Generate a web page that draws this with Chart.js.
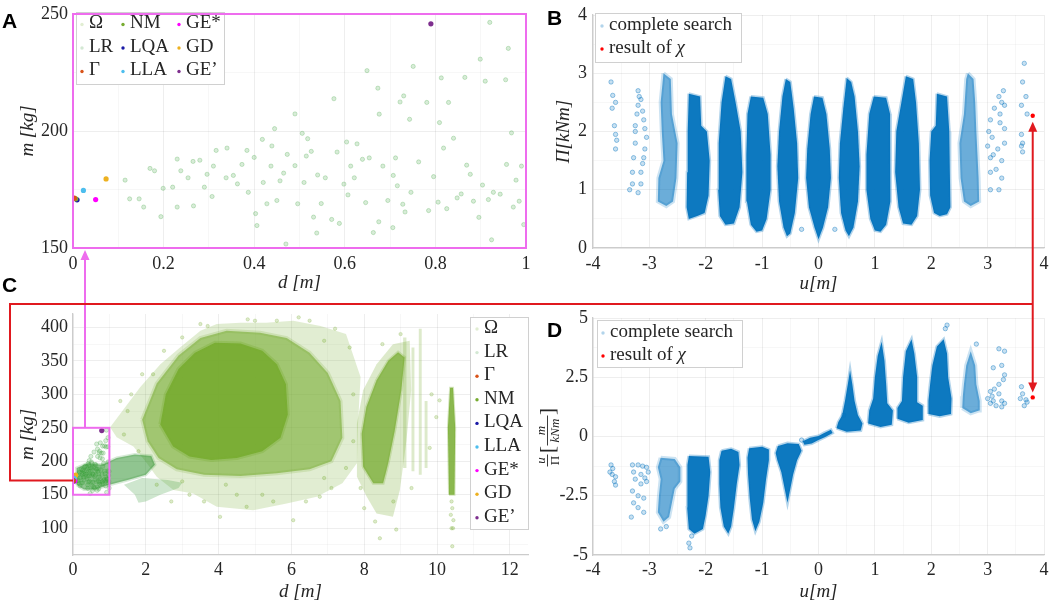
<!DOCTYPE html>
<html>
<head>
<meta charset="utf-8">
<script src="https://cdn.jsdelivr.net/npm/chart.js@4.4.1/dist/chart.umd.min.js"></script>
<style>
    html, body { margin: 0; padding: 0; background: #fff; }
    #page { position: relative; width: 1059px; height: 606px; overflow: hidden; }
    #page canvas { position: absolute; }
    .tag { position: absolute; font: bold 21px "Liberation Sans", Arial, sans-serif; line-height: 21px; color: #000; }
</style>
</head>
<body>
<div id="page">
    <canvas id="chartA"></canvas>
    <canvas id="chartB"></canvas>
    <canvas id="chartC"></canvas>
    <canvas id="chartD"></canvas>
    <canvas id="links" style="left:0;top:0;pointer-events:none"></canvas>
    <div class="tag" style="left:2px;top:10px">A</div>
    <div class="tag" style="left:547px;top:7px">B</div>
    <div class="tag" style="left:2px;top:274px">C</div>
    <div class="tag" style="left:547px;top:319px">D</div>
</div>
<script>
// ---------- ticks ----------
const aXTicks = [0, 0.2, 0.4, 0.6, 0.8, 1];
const aYTicks = [150, 200, 250];
const bXTicks = [-4, -3, -2, -1, 0, 1, 2, 3, 4];
const bYTicks = [0, 1, 2, 3, 4];
const cXTicks = [0, 2, 4, 6, 8, 10, 12];
const cYTicks = [100, 150, 200, 250, 300, 350, 400];
const dXTicks = [-4, -3, -2, -1, 0, 1, 2, 3, 4];
const dYTicks = [-5, -2.5, 0, 2.5, 5];

// ---------- panels A / C : m [kg] over d [m] ----------
const specialKeys = ['gamma', 'nm', 'lqa', 'lla', 'geStar', 'gd', 'gePrime'];
const specialD = [0.003, 0.006, 0.009, 0.023, 0.05, 0.073, 0.79];
const specialM = [171.3, 171.0, 170.6, 174.6, 170.7, 179.5, 245.8];

// LR samples visible in the zoomed panel A
const lrPoints = [
    [0.115, 179], [0.125, 171], [0.146, 171], [0.156, 167.5], [0.17, 184], [0.18, 183], [0.194, 163.4],
    [0.199, 175.5], [0.22, 176], [0.23, 167.5], [0.23, 188], [0.238, 183], [0.254, 180], [0.265, 187],
    [0.266, 168], [0.28, 187.5], [0.29, 176], [0.296, 181.5], [0.307, 172], [0.31, 185], [0.316, 191.7],
    [0.34, 192.7], [0.338, 180], [0.354, 181], [0.363, 177.4], [0.373, 185.7], [0.384, 191.7], [0.387, 173.8],
    [0.4, 188.7], [0.403, 164.7], [0.406, 159.6], [0.418, 196.4], [0.42, 178], [0.428, 168.9], [0.437, 185],
    [0.439, 193.6], [0.445, 201], [0.45, 170.3], [0.457, 178.7], [0.465, 182], [0.47, 151.7], [0.473, 190],
    [0.49, 185.2], [0.49, 207.3], [0.496, 168.9], [0.506, 199], [0.51, 178], [0.515, 189.3], [0.518, 196.7],
    [0.526, 191.3], [0.531, 163.2], [0.538, 156.4], [0.54, 181.2], [0.548, 169], [0.557, 180], [0.571, 162.2],
    [0.576, 213.8], [0.583, 191], [0.588, 160.5], [0.598, 177.3], [0.604, 195.3], [0.607, 172.7], [0.613, 185],
    [0.621, 180], [0.627, 194.5], [0.639, 187.9], [0.646, 169.4], [0.649, 225.8], [0.654, 188.5], [0.663, 156.6],
    [0.673, 218.3], [0.675, 161.2], [0.676, 207.2], [0.684, 185], [0.695, 170.3], [0.706, 158.7], [0.707, 181],
    [0.712, 188.5], [0.716, 176.6], [0.722, 212.4], [0.728, 168.7], [0.73, 215], [0.733, 165.4], [0.743, 205],
    [0.746, 173.8], [0.751, 227.6], [0.763, 186.8], [0.781, 212.2], [0.785, 166], [0.796, 180.5], [0.806, 169.6],
    [0.809, 203.6], [0.813, 222.7], [0.818, 192.7], [0.825, 166.8], [0.829, 212.2], [0.84, 196.9], [0.848, 171.4],
    [0.857, 173.1], [0.865, 222.9], [0.869, 185.4], [0.877, 181.5], [0.884, 170], [0.896, 163.1], [0.899, 230.7],
    [0.904, 176.9], [0.91, 221.3], [0.917, 170.7], [0.92, 246.4], [0.924, 153.5], [0.928, 173.8], [0.943, 173],
    [0.955, 221.9], [0.957, 185.7], [0.961, 235.3], [0.968, 199.2], [0.972, 167.5], [0.978, 179], [0.985, 170],
    [0.99, 185], [0.995, 160]
];

// outlines of the dense clouds in panel C, read as [d, m]
const omegaHalo = [
    [1.02, 251], [1.85, 311], [2.4, 345], [2.94, 370], [3.5, 395], [3.95, 405], [4.6, 407], [5.3, 407],
    [6.05, 410], [6.8, 402], [7.5, 390], [7.9, 326], [7.83, 256], [7.8, 197], [7.4, 167], [6.7, 147],
    [5.87, 137], [4.95, 127], [3.95, 132], [3.3, 152], [2.76, 157], [2.3, 177], [2.03, 197], [1.66, 222], [1.2, 236]
];
const omegaMid = [
    [1.9, 262], [2.3, 316], [2.9, 358], [3.5, 384], [4.22, 395], [5.14, 392], [5.87, 384], [6.5, 362],
    [7.0, 332], [7.35, 290], [7.4, 235], [7.1, 200], [6.5, 188], [5.6, 182], [4.6, 178], [3.6, 180],
    [2.85, 188], [2.35, 205], [2.05, 230]
];
const omegaCore = [
    [2.4, 255], [2.55, 300], [2.9, 338], [3.35, 362], [3.9, 377], [4.6, 376], [5.2, 365], [5.6, 345],
    [5.85, 315], [5.9, 270], [5.7, 235], [5.2, 215], [4.5, 205], [3.8, 202], [3.2, 207], [2.75, 222]
];
const omegaSpindleHalo = [
    [7.8, 177], [7.8, 256], [7.97, 306], [8.34, 345], [8.79, 375], [9.25, 380], [9.29, 306], [9.16, 231],
    [8.98, 157], [8.79, 117], [8.34, 122], [8.07, 147]
];
const omegaSpindle = [
    [7.97, 192], [7.93, 241], [8.06, 281], [8.34, 321], [8.66, 350], [8.93, 363], [9.11, 355], [9.02, 306],
    [8.84, 246], [8.66, 197], [8.52, 167], [8.25, 167]
];
const omegaStripes = [
    [[9.07, 190], [9.07, 385], [9.16, 385], [9.16, 190]],
    [[9.3, 185], [9.3, 370], [9.38, 370], [9.38, 185]],
    [[9.5, 180], [9.5, 398], [9.58, 398], [9.58, 180]],
    [[9.66, 190], [9.66, 290], [9.74, 290], [9.74, 190]]
];
const omegaColumn = [[10.33, 150], [10.3, 250], [10.36, 310], [10.44, 310], [10.5, 250], [10.48, 150]];
const omegaSparse = [
    [10.4, 140], [10.42, 130], [10.38, 120], [10.45, 112], [10.4, 100], [10.44, 100], [10.42, 73],
    [6.78, 147], [8.43, 85], [8.88, 98], [6.05, 112], [9.98, 266], [10.07, 291], [4.04, 117], [4.77, 132],
    [1.5, 275], [2.2, 330], [6.2, 415], [3.7, 402], [5.0, 410],
    [1.3, 290], [1.6, 300], [1.9, 330], [2.5, 365], [3.0, 385], [3.5, 405], [4.8, 412], [5.6, 410],
    [6.5, 410], [7.2, 398], [7.6, 370], [7.7, 300], [7.7, 230], [7.5, 190], [7.1, 160], [6.4, 140],
    [5.5, 140], [4.5, 150], [3.6, 140], [3.2, 150], [2.7, 140], [2.3, 165], [1.8, 215], [1.4, 240],
    [9.8, 220], [9.85, 300], [8.3, 110], [8.0, 130], [8.8, 140], [9.3, 160], [5.2, 150], [6.9, 175],
    [4.2, 165], [3.0, 170], [7.9, 160], [9.0, 390], [8.5, 375], [6.9, 380]
];
const lrCluster = [
    [0.1, 165], [0.1, 190], [0.4, 197], [0.8, 195], [1.2, 205], [1.7, 210], [2.15, 208], [2.25, 195],
    [2.0, 180], [1.5, 172], [1.0, 165], [0.6, 158], [0.3, 158]
];
const lrBranch = [[1.4, 165], [1.9, 175], [2.6, 172], [3.0, 168], [2.9, 160], [2.4, 150], [2.0, 140], [1.8, 138], [1.7, 150]];

// ---------- panel B : Π [kNm] over u [m] ----------
const bDense = [
    [[-2.3, 2.65], [-2.1, 2.6], [-2.08, 2.1], [-1.98, 2.0], [-1.93, 1.5], [-1.95, 0.9], [-2.02, 0.6], [-2.15, 0.55], [-2.3, 0.5], [-2.34, 0.7], [-2.33, 1.3], [-2.32, 2.0]],
    [[-1.65, 2.95], [-1.55, 2.9], [-1.47, 2.5], [-1.38, 2.0], [-1.35, 1.3], [-1.4, 0.7], [-1.5, 0.42], [-1.65, 0.4], [-1.75, 0.55], [-1.78, 1.0], [-1.77, 1.8], [-1.72, 2.5]],
    [[-1.2, 2.6], [-0.98, 2.58], [-0.9, 2.3], [-0.85, 1.6], [-0.85, 1.0], [-0.92, 0.5], [-1.0, 0.3], [-1.1, 0.28], [-1.2, 0.4], [-1.27, 0.8], [-1.28, 1.6], [-1.26, 2.3]],
    [[-0.58, 2.9], [-0.5, 2.85], [-0.44, 2.4], [-0.38, 1.8], [-0.36, 1.2], [-0.42, 0.6], [-0.5, 0.25], [-0.56, 0.2], [-0.62, 0.35], [-0.7, 0.8], [-0.73, 1.4], [-0.7, 2.0], [-0.64, 2.6]],
    [[-0.08, 2.6], [0.07, 2.58], [0.14, 2.3], [0.2, 1.7], [0.22, 1.2], [0.17, 0.7], [0.08, 0.35], [0.0, 0.15], [-0.07, 0.35], [-0.17, 0.7], [-0.22, 1.2], [-0.2, 1.7], [-0.14, 2.3]],
    [[0.5, 2.92], [0.58, 2.85], [0.64, 2.6], [0.7, 2.0], [0.73, 1.4], [0.7, 0.8], [0.62, 0.35], [0.54, 0.2], [0.48, 0.3], [0.4, 0.6], [0.36, 1.2], [0.38, 1.8], [0.44, 2.4]],
    [[0.98, 2.6], [1.2, 2.58], [1.27, 2.3], [1.28, 1.6], [1.27, 0.8], [1.2, 0.4], [1.1, 0.28], [1.0, 0.3], [0.92, 0.5], [0.85, 1.0], [0.85, 1.6], [0.9, 2.3]],
    [[1.55, 2.95], [1.68, 2.9], [1.73, 2.5], [1.78, 1.8], [1.8, 1.0], [1.75, 0.55], [1.65, 0.4], [1.5, 0.42], [1.42, 0.7], [1.36, 1.3], [1.38, 2.0], [1.47, 2.5]],
    [[2.1, 2.65], [2.28, 2.6], [2.32, 2.0], [2.33, 1.3], [2.34, 0.7], [2.28, 0.58], [2.15, 0.55], [2.05, 0.6], [1.98, 0.9], [1.97, 1.5], [2.0, 2.0], [2.08, 2.1]]
];
const bMedium = [
    [[-2.75, 3.0], [-2.62, 2.9], [-2.6, 2.3], [-2.5, 1.8], [-2.52, 1.2], [-2.58, 0.8], [-2.7, 0.72], [-2.85, 0.8], [-2.84, 1.2], [-2.75, 1.5], [-2.78, 2.0], [-2.8, 2.5]],
    [[2.65, 3.0], [2.75, 2.9], [2.78, 2.5], [2.8, 2.0], [2.84, 1.2], [2.85, 0.8], [2.7, 0.72], [2.58, 0.8], [2.52, 1.2], [2.5, 1.8], [2.58, 2.3], [2.62, 2.9]]
];
const bSparse = [
    [-3.68, 2.85], [-3.65, 2.62], [-3.6, 2.5], [-3.66, 2.4], [-3.62, 2.1], [-3.6, 1.95], [-3.58, 1.85], [-3.6, 1.7],
    [-3.35, 1.0], [-3.3, 1.1], [-3.3, 1.3], [-3.28, 1.55], [-3.25, 1.8], [-3.25, 2.1], [-3.22, 2.3], [-3.2, 2.45],
    [-3.18, 2.6], [-3.2, 2.7], [-3.15, 2.55], [-3.12, 2.35], [-3.1, 2.2], [-3.08, 2.05], [-3.05, 1.9], [-3.08, 1.7],
    [-3.1, 1.55], [-3.15, 1.3], [-3.15, 1.1], [-3.2, 0.95], [-3.25, 2.0], [-3.12, 1.45],
    [3.05, 1.0], [3.05, 1.3], [3.05, 1.55], [3.0, 1.75], [3.02, 2.0], [3.05, 2.2], [3.08, 1.9], [3.1, 1.6],
    [3.15, 1.35], [3.2, 1.0], [3.25, 1.2], [3.25, 1.5], [3.22, 2.3], [3.25, 2.5], [3.2, 2.6], [3.28, 2.7],
    [3.3, 2.45], [3.22, 2.15], [3.3, 2.05], [3.3, 1.8], [3.12, 2.4], [3.18, 1.7],
    [3.65, 3.17], [3.62, 2.85], [3.68, 2.6], [3.6, 2.45], [3.7, 2.3], [3.6, 1.95], [3.62, 1.8], [3.6, 1.75], [3.62, 1.65],
    [-0.3, 0.32], [0.29, 0.32]
];
const bResult = [[3.8, 2.27]];

// ---------- panel D : u/Π over u [m] ----------
const dDense = [
    [[-2.3, -0.82], [-1.95, -0.85], [-1.92, -1.5], [-1.95, -2.5], [-2.0, -3.3], [-2.05, -3.9], [-2.2, -4.1], [-2.3, -3.9], [-2.33, -3.0], [-2.32, -2.0], [-2.33, -1.2]],
    [[-1.72, -0.6], [-1.55, -0.52], [-1.42, -0.65], [-1.4, -1.2], [-1.45, -2.0], [-1.5, -3.0], [-1.55, -3.8], [-1.6, -4.1], [-1.68, -3.8], [-1.74, -3.0], [-1.76, -2.0], [-1.76, -1.0]],
    [[-1.23, -0.5], [-1.0, -0.43], [-0.88, -0.55], [-0.88, -1.0], [-0.93, -1.8], [-0.98, -2.8], [-1.05, -3.6], [-1.12, -4.0], [-1.18, -3.5], [-1.22, -2.6], [-1.25, -1.6], [-1.26, -0.9]],
    [[-0.72, -0.4], [-0.55, -0.28], [-0.35, -0.32], [-0.3, -0.6], [-0.38, -1.0], [-0.45, -1.6], [-0.5, -2.2], [-0.55, -2.8], [-0.6, -2.2], [-0.66, -1.5], [-0.73, -1.0], [-0.76, -0.7]],
    [[-0.28, -0.2], [-0.15, -0.05], [0, 0.02], [0.1, 0.15], [0.22, 0.28], [0.25, 0.15], [0.12, -0.02], [0, -0.15], [-0.12, -0.3], [-0.25, -0.35]],
    [[0.32, 0.35], [0.5, 0.2], [0.75, 0.25], [0.78, 0.55], [0.7, 0.9], [0.64, 1.5], [0.6, 2.2], [0.56, 2.8], [0.52, 2.2], [0.47, 1.5], [0.42, 0.9], [0.35, 0.6]],
    [[0.88, 0.55], [1.1, 0.4], [1.3, 0.5], [1.32, 1.1], [1.22, 1.4], [1.2, 2.2], [1.17, 3.2], [1.12, 4.0], [1.05, 3.4], [1.0, 2.5], [0.97, 1.6], [0.9, 1.1]],
    [[1.4, 0.75], [1.6, 0.58], [1.85, 0.7], [1.85, 1.3], [1.75, 1.45], [1.75, 2.5], [1.7, 3.5], [1.65, 4.1], [1.55, 3.6], [1.5, 2.5], [1.48, 1.5], [1.4, 1.2]],
    [[1.95, 0.95], [2.15, 0.85], [2.35, 0.95], [2.36, 1.6], [2.3, 2.5], [2.28, 3.5], [2.22, 4.1], [2.1, 3.8], [2.02, 3.0], [1.98, 2.2], [1.95, 1.5]]
];
const dMedium = [
    [[-2.8, -0.9], [-2.55, -0.95], [-2.45, -1.3], [-2.45, -1.9], [-2.55, -2.2], [-2.6, -2.8], [-2.65, -3.4], [-2.75, -3.6], [-2.85, -3.2], [-2.83, -2.5], [-2.8, -1.8], [-2.85, -1.3]],
    [[2.55, 1.2], [2.7, 0.98], [2.85, 1.1], [2.86, 1.5], [2.8, 2.2], [2.78, 3.0], [2.7, 3.6], [2.62, 3.0], [2.58, 2.2], [2.56, 1.7]]
];
const dSparse = [
    [-3.68, -1.2], [-3.7, -1.5], [-3.65, -1.35], [-3.6, -1.7], [-3.62, -1.9], [-3.6, -2.05], [-3.66, -1.6],
    [-3.3, -1.2], [-3.2, -1.2], [-3.12, -1.25], [-3.05, -1.3], [-3.28, -1.5], [-3.25, -1.8], [-3.15, -1.6],
    [-3.08, -1.75], [-3.05, -1.9], [-3.15, -2.0], [-3.3, -2.3], [-3.28, -2.8], [-3.2, -3.0], [-3.1, -2.6],
    [-3.32, -3.4], [-3.1, -3.2], [-3.2, -2.5], [-3.02, -1.5],
    [-2.3, -4.5], [-2.28, -4.7], [-2.25, -4.2], [-2.8, -3.9], [-2.7, -3.8],
    [3.05, 1.4], [3.1, 1.5], [3.15, 1.3], [3.25, 1.25], [3.25, 1.5], [3.3, 1.4], [3.08, 1.7], [3.12, 2.0],
    [3.05, 1.9], [3.2, 2.2], [3.3, 2.6], [3.25, 3.0], [3.3, 3.6], [3.1, 2.9], [3.2, 1.8], [3.28, 2.4], [3.0, 1.6],
    [3.6, 2.1], [3.62, 1.8], [3.68, 1.55], [3.7, 1.45], [3.65, 1.3], [3.58, 1.6],
    [2.25, 4.55], [2.28, 4.7], [2.8, 3.9], [3.2, 3.7], [-0.3, -0.15], [0.45, 0.9]
];
const dResult = [[3.8, 1.65]];

// ---------- styles ----------
const SERIF = '"Liberation Serif", "Times New Roman", serif';
const INK = '#262626';
const AXIS = '#cccccc';
const GRID_MAJOR = 'rgba(0,0,0,0.065)';
const GRID_MINOR = 'rgba(0,0,0,0.03)';
const MAGENTA = '#ee6cee';
const RED = '#e0191f';
const BLUE = '0,114,189';
const OLIVE = '119,172,48';
const GREEN = '34,139,34';
const NONE = 'rgba(0,0,0,0)';

const LABEL = {
    omega: 'Ω', lr: 'LR', gamma: 'Γ', nm: 'NM', lqa: 'LQA', lla: 'LLA', geStar: 'GE*', gd: 'GD', gePrime: 'GE’',
    search: 'complete search', result: 'result of '
};
const LABEL_ITALIC = { result: 'χ' };
const DOT = {
    omega: 'rgba(119,172,48,0.22)', lr: 'rgba(34,139,34,0.2)', gamma: '#D95319', nm: '#77AC30',
    lqa: '#1a1aa6', lla: '#4DBEEE', geStar: '#FF00FF', gd: '#EDB120', gePrime: '#7E2F8E',
    search: 'rgba(0,114,189,0.3)', result: '#ff0000'
};

const PANEL = {
    A: { left: 0, top: 0, w: 540, h: 300, plot: [73, 10, 526, 248] },
    B: { left: 530, top: 0, w: 529, h: 300, plot: [593, 12, 1044, 248] },
    C: { left: 0, top: 300, w: 540, h: 306, plot: [73, 313, 528, 555] },
    D: { left: 530, top: 300, w: 529, h: 306, plot: [593, 318, 1044, 555] }
};

function withMinors(majors, min, max) {
    const out = majors.map(v => ({ value: v, major: true }));
    const step = majors[1] - majors[0];
    const mids = majors.map(v => v + step / 2).concat([majors[0] - step / 2]);
    mids.forEach(v => { if (v > min && v < max) out.push({ value: v, major: false }); });
    return out.sort((a, b) => a.value - b.value);
}

function scaleOpts(p, axis, min, max, majors, title, pad, showBorder) {
    const isX = axis === 'x';
    return {
        type: 'linear', position: isX ? 'bottom' : 'left', min: min, max: max, bounds: 'data',
        afterBuildTicks: s => { s.ticks = withMinors(majors, min, max); },
        afterFit: s => {
            if (isX) s.height = p.top + p.h - p.plot[3];
            else s.width = p.plot[0] - p.left;
        },
        grid: { drawTicks: false, lineWidth: 1, color: c => (c.tick && c.tick.major) ? GRID_MAJOR : GRID_MINOR },
        border: { display: showBorder, color: AXIS, width: 1.3 },
        ticks: {
            autoSkip: false, maxRotation: 0, padding: pad.tick, color: INK,
            font: { family: SERIF, size: 18, lineHeight: 1 },
            callback: (v, i, t) => t[i].major ? String(v) : ''
        },
        title: {
            display: !!title, text: title || '', color: INK, padding: pad.title,
            font: { family: SERIF, size: 19, style: 'italic', lineHeight: 1 }
        }
    };
}

function points(list, style) {
    return Object.assign({ data: list.map(([x, y]) => ({ x: x, y: y })), showLine: false }, style);
}

function polygon(list, fill, edge, edgeWidth, order) {
    const ring = list.concat([list[0]]);
    return {
        data: ring.map(([x, y]) => ({ x: x, y: y })), showLine: true, fill: 'shape', tension: 0,
        pointRadius: 0, backgroundColor: fill, borderColor: edge, borderWidth: edgeWidth, order: order
    };
}

function specialSets(radius) {
    return specialKeys.map((k, i) => ({
        data: [{ x: specialD[i], y: specialM[i] }], pointRadius: radius, pointBorderWidth: 0,
        backgroundColor: DOT[k], order: 0
    }));
}

function legendPlugin(spec) {
    return {
        id: 'boxLegend',
        afterDraw(chart) {
            const ctx = chart.ctx;
            const [bx, by, bw, bh] = spec.box;
            ctx.save();
            ctx.fillStyle = '#ffffff';
            ctx.fillRect(bx, by, bw, bh);
            ctx.strokeStyle = '#d0d0d0';
            ctx.lineWidth = 1;
            ctx.strokeRect(bx + 0.5, by + 0.5, bw, bh);
            ctx.textBaseline = 'middle';
            ctx.textAlign = 'left';
            spec.columns.forEach(col => {
                col.keys.forEach((k, r) => {
                    const y = spec.rowY + r * spec.rowH;
                    ctx.fillStyle = DOT[k];
                    ctx.beginPath();
                    ctx.arc(col.mx, y + 1, 1.7, 0, Math.PI * 2);
                    ctx.fill();
                    ctx.fillStyle = INK;
                    ctx.font = '19px ' + SERIF;
                    ctx.fillText(LABEL[k], col.tx, y);
                    if (LABEL_ITALIC[k]) {
                        const w = ctx.measureText(LABEL[k]).width;
                        ctx.font = 'italic 19px ' + SERIF;
                        ctx.fillText(LABEL_ITALIC[k], col.tx + w, y);
                    }
                });
            });
            ctx.restore();
        }
    };
}

// y title of panel D: u/Π [m/kNm] as stacked fractions
const fracTitle = {
    id: 'fracTitle',
    afterDraw(chart) {
        const ctx = chart.ctx, a = chart.chartArea;
        ctx.save();
        ctx.translate(17, (a.top + a.bottom) / 2);
        ctx.rotate(-Math.PI / 2);
        ctx.fillStyle = INK;
        ctx.strokeStyle = INK;
        ctx.lineWidth = 0.9;
        ctx.textAlign = 'center';
        ctx.textBaseline = 'alphabetic';
        const bar = (x0, x1) => { ctx.beginPath(); ctx.moveTo(x0, 0.5); ctx.lineTo(x1, 0.5); ctx.stroke(); };
        let x = -30;
        ctx.font = 'italic 13px ' + SERIF;
        ctx.fillText('u', x + 6, -2);
        ctx.font = '13px ' + SERIF;
        ctx.fillText('Π', x + 6, 12);
        bar(x, x + 12);
        x += 14;
        ctx.font = '21px ' + SERIF;
        ctx.fillText('[', x + 3, 7);
        x += 7;
        ctx.font = 'italic 13px ' + SERIF;
        ctx.fillText('m', x + 15, -2);
        ctx.fillText('kNm', x + 15, 12);
        bar(x, x + 30);
        x += 31;
        ctx.font = '21px ' + SERIF;
        ctx.fillText(']', x + 3, 7);
        ctx.restore();
    }
};

function makeChart(id, p, datasets, scales, plugins) {
    const cv = document.getElementById(id);
    cv.width = p.w;
    cv.height = p.h;
    cv.style.left = p.left + 'px';
    cv.style.top = p.top + 'px';
    cv.style.width = p.w + 'px';
    cv.style.height = p.h + 'px';
    return new Chart(cv, {
        type: 'scatter',
        data: { datasets: datasets },
        plugins: plugins,
        options: {
            responsive: false,
            animation: false,
            events: [],
            layout: { padding: { left: 0, top: p.plot[1] - p.top, right: p.left + p.w - p.plot[2], bottom: 0 } },
            scales: scales,
            plugins: { legend: { display: false }, tooltip: { enabled: false } }
        }
    });
}

const lrStyle = { pointRadius: 2.1, backgroundColor: 'rgba(60,160,60,0.2)', borderColor: 'rgba(60,160,60,0.32)', borderWidth: 0.8, order: 1 };
const blueDot = { pointRadius: 2.2, backgroundColor: 'rgba(' + BLUE + ',0.22)', borderColor: 'rgba(' + BLUE + ',0.5)', borderWidth: 0.8, order: 1 };
const redDot = { pointRadius: 2.2, backgroundColor: '#ff0000', borderWidth: 0, order: 0 };

// ---------- A ----------
const chartA = makeChart('chartA', PANEL.A,
    specialSets(2.6).concat([points(lrPoints, lrStyle)]),
    {
        x: scaleOpts(PANEL.A, 'x', 0, 1, aXTicks, 'd [m]', { tick: 7.5, title: 7.5 }, false),
        y: scaleOpts(PANEL.A, 'y', 150, 250, aYTicks, 'm [kg]', { tick: 5, title: 18.5 }, false)
    },
    [legendPlugin({
        box: [76, 12, 148, 72], rowY: 23.5, rowH: 23.5,
        columns: [
            { mx: 82, tx: 89, keys: ['omega', 'lr', 'gamma'] },
            { mx: 123, tx: 130, keys: ['nm', 'lqa', 'lla'] },
            { mx: 179, tx: 186, keys: ['geStar', 'gd', 'gePrime'] }
        ]
    })]
);

// ---------- B ----------
const chartB = makeChart('chartB', PANEL.B,
    [points(bResult, redDot), points(bSparse, blueDot)]
        .concat(bDense.map(c => polygon(c, 'rgba(' + BLUE + ',0.95)', 'rgba(' + BLUE + ',0.3)', 3, 3)))
        .concat(bMedium.map(c => polygon(c, 'rgba(' + BLUE + ',0.58)', 'rgba(' + BLUE + ',0.2)', 4, 4))),
    {
        x: scaleOpts(PANEL.B, 'x', -4, 4, bXTicks, 'u[m]', { tick: 7.5, title: 6.5 }, true),
        y: scaleOpts(PANEL.B, 'y', 0, 4, bYTicks, 'Π[kNm]', { tick: 6, title: 24.5 }, true)
    },
    [legendPlugin({
        box: [65, 13, 146, 49], rowY: 25, rowH: 23,
        columns: [{ mx: 72, tx: 79, keys: ['search', 'result'] }]
    })]
);

// ---------- C ----------
const omegaDot = { pointRadius: 1.7, backgroundColor: 'rgba(' + OLIVE + ',0.25)', borderColor: 'rgba(' + OLIVE + ',0.35)', borderWidth: 0.7, order: 2 };
const chartC = makeChart('chartC', PANEL.C,
    specialSets(2.6).concat([
        points(lrPoints, lrStyle),
        points(omegaSparse, omegaDot),
        polygon(lrCluster, 'rgba(' + GREEN + ',0.5)', 'rgba(' + GREEN + ',0.18)', 3, 3),
        polygon(lrBranch, 'rgba(' + GREEN + ',0.22)', NONE, 0, 3),
        polygon(omegaCore, 'rgba(' + OLIVE + ',0.9)', 'rgba(' + OLIVE + ',0.3)', 4, 4),
        polygon(omegaSpindle, 'rgba(' + OLIVE + ',0.75)', 'rgba(' + OLIVE + ',0.25)', 3, 4),
        polygon(omegaColumn, 'rgba(' + OLIVE + ',0.85)', 'rgba(' + OLIVE + ',0.3)', 2, 4),
        polygon(omegaMid, 'rgba(' + OLIVE + ',0.6)', 'rgba(' + OLIVE + ',0.2)', 4, 5),
        polygon(omegaSpindleHalo, 'rgba(' + OLIVE + ',0.25)', NONE, 0, 6),
        polygon(omegaHalo, 'rgba(' + OLIVE + ',0.22)', NONE, 0, 6)
    ]).concat(omegaStripes.map(s => polygon(s, 'rgba(' + OLIVE + ',0.25)', NONE, 0, 5))),
    {
        x: scaleOpts(PANEL.C, 'x', 0, 12.5, cXTicks, 'd [m]', { tick: 6.5, title: 4.5 }, true),
        y: scaleOpts(PANEL.C, 'y', 60, 420, cYTicks, 'm [kg]', { tick: 5, title: 18.5 }, true)
    },
    [legendPlugin({
        box: [470, 17, 58, 212], rowY: 28, rowH: 23.6,
        columns: [{ mx: 477, tx: 484, keys: ['omega', 'lr', 'gamma', 'nm', 'lqa', 'lla', 'geStar', 'gd', 'gePrime'] }]
    })]
);

// ---------- D ----------
const chartD = makeChart('chartD', PANEL.D,
    [points(dResult, redDot), points(dSparse, blueDot)]
        .concat(dDense.map(c => polygon(c, 'rgba(' + BLUE + ',0.95)', 'rgba(' + BLUE + ',0.3)', 3, 3)))
        .concat(dMedium.map(c => polygon(c, 'rgba(' + BLUE + ',0.58)', 'rgba(' + BLUE + ',0.2)', 4, 4))),
    {
        x: scaleOpts(PANEL.D, 'x', -4, 4, dXTicks, 'u[m]', { tick: 6.5, title: 4.5 }, true),
        y: scaleOpts(PANEL.D, 'y', -5, 5, dYTicks, '', { tick: 5, title: 0 }, true)
    },
    [legendPlugin({
        box: [67, 20, 145, 47], rowY: 32, rowH: 23,
        columns: [{ mx: 73, tx: 80, keys: ['search', 'result'] }]
    }), fracTitle]
);

// ---------- connectors between the panels ----------
function drawLinks() {
    const cv = document.getElementById('links');
    const dpr = window.devicePixelRatio || 1;
    cv.width = 1059 * dpr;
    cv.height = 606 * dpr;
    cv.style.width = '1059px';
    cv.style.height = '606px';
    const ctx = cv.getContext('2d');
    ctx.scale(dpr, dpr);

    const px = (ch, p, v) => p.left + ch.scales.x.getPixelForValue(v);
    const py = (ch, p, v) => p.top + ch.scales.y.getPixelForValue(v);
    const head = (x, y, dir, color) => {
        ctx.fillStyle = color;
        ctx.beginPath();
        ctx.moveTo(x, y);
        ctx.lineTo(x - 4.5, y - dir * 10);
        ctx.lineTo(x + 4.5, y - dir * 10);
        ctx.closePath();
        ctx.fill();
    };

    // panel A is the zoomed window: magenta frame
    const a = chartA.chartArea;
    ctx.lineWidth = 2;
    ctx.strokeStyle = MAGENTA;
    ctx.strokeRect(PANEL.A.left + a.left, PANEL.A.top + a.top, a.width, a.height);

    // the same window inside C
    const x0 = px(chartC, PANEL.C, 0), x1 = px(chartC, PANEL.C, 1);
    const yTop = py(chartC, PANEL.C, 250), yBot = py(chartC, PANEL.C, 150);
    ctx.strokeRect(x0, yTop, x1 - x0, yBot - yTop);
    const ax = px(chartC, PANEL.C, 0.33);
    const aTip = PANEL.A.top + a.bottom + 2;
    ctx.beginPath();
    ctx.moveTo(ax, yTop);
    ctx.lineTo(ax, aTip + 8);
    ctx.stroke();
    head(ax, aTip, -1, MAGENTA);

    // red link: optimum in C -> result in D, and B <-> D
    const yG = py(chartC, PANEL.C, specialM[0]);
    const xr = px(chartD, PANEL.D, dResult[0][0]);
    const yD = py(chartD, PANEL.D, dResult[0][1]);
    const yB = py(chartB, PANEL.B, bResult[0][1]);
    const yRoute = 304;
    ctx.strokeStyle = RED;
    ctx.lineWidth = 2;
    ctx.beginPath();
    ctx.moveTo(x0, yG);
    ctx.lineTo(10, yG);
    ctx.lineTo(10, yRoute);
    ctx.lineTo(xr, yRoute);
    ctx.stroke();
    ctx.beginPath();
    ctx.moveTo(xr, yB + 14);
    ctx.lineTo(xr, yD - 14);
    ctx.stroke();
    head(xr, yD - 5, 1, RED);
    head(xr, yB + 6, -1, RED);
}
drawLinks();
</script>
</body>
</html>
